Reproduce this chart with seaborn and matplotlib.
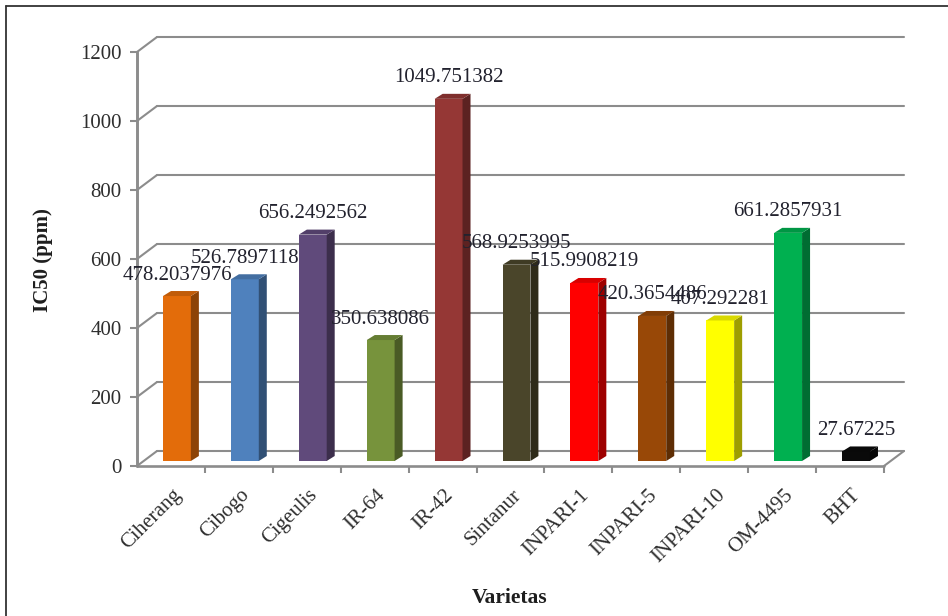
import numpy as np
import pandas as pd
import matplotlib
matplotlib.use("Agg")
import matplotlib.pyplot as plt
import seaborn as sns
from matplotlib.patches import Polygon
from matplotlib.lines import Line2D
from matplotlib.transforms import offset_copy, ScaledTranslation, IdentityTransform
from matplotlib.colors import to_rgb

# ---- data -------------------------------------------------------------
varieties = ["Ciherang", "Cibogo", "Cigeulis", "IR-64", "IR-42", "Sintanur",
             "INPARI-1", "INPARI-5", "INPARI-10", "OM-4495", "BHT"]
ic50 = [478.2037976, 526.7897118, 656.2492562, 350.638086, 1049.751382,
        568.9253995, 515.9908219, 420.3654486, 407.292281, 661.2857931, 27.67225]
bar_colors = ["#E36C0A", "#4F81BD", "#604A7B", "#77933C", "#953735", "#4A452A",
              "#FF0000", "#984807", "#FFFF00", "#00B050", "#0A0A0A"]
y_ticks = [0, 200, 400, 600, 800, 1000, 1200]

# ---- style ------------------------------------------------------------
sns.set_style("white")
plt.rcParams["font.family"] = ["Liberation Serif", "DejaVu Serif"]

W, H, DPI = 948, 616, 100
GRID = "#8c8c8c"
TEXT = "#22222e"

# pseudo-3D geometry, in pixels
WALL_DX, WALL_DY = 20, 15      # front plane -> back wall
BAR_SHIFT = (6, 5)             # bars stand a little behind the front plane
BAR_DX, BAR_DY = 8, 5          # bar depth

fig = plt.figure(figsize=(W / DPI, H / DPI), dpi=DPI)
ax = fig.add_axes([137 / W, 1 - 466 / H, (884 - 137) / W, (466 - 52) / H])

df = pd.DataFrame({"Varietas": varieties, "IC50": ic50})
sns.barplot(data=df, x="Varietas", y="IC50", hue="Varietas",
            palette=dict(zip(varieties, bar_colors)), saturation=1,
            width=0.41, linewidth=0, legend=False, ax=ax, zorder=3)

ax.set_xlim(-0.5, len(varieties) - 0.5)
ax.set_ylim(0, 1200)
for s in ax.spines.values():
    s.set_visible(False)

x_lo, x_hi = ax.get_xlim()
to_px = ax.transData.transform
back = offset_copy(ax.transData, fig=fig, x=WALL_DX, y=WALL_DY, units="dots")

# back wall gridlines and the slanted connectors to the front axis
for v in y_ticks:
    ax.add_line(Line2D([x_lo, x_hi], [v, v], transform=back, color=GRID,
                       lw=1.5, clip_on=False, zorder=1))
    px, py = to_px((x_lo, v))
    ax.add_line(Line2D([px, px + WALL_DX], [py, py + WALL_DY],
                       transform=IdentityTransform(), color=GRID, lw=1.5,
                       clip_on=False, zorder=1))
# floor: front edge and right-hand connector
ax.add_line(Line2D([x_lo, x_hi], [0, 0], color=GRID, lw=1.9,
                   clip_on=False, zorder=2))
px, py = to_px((x_hi, 0))
ax.add_line(Line2D([px, px + WALL_DX], [py, py + WALL_DY],
                   transform=IdentityTransform(), color=GRID, lw=1.5,
                   clip_on=False, zorder=1))
# front vertical axis
ax.add_line(Line2D([x_lo, x_lo], [0, 1200], color=GRID, lw=2.1,
                   clip_on=False, zorder=4))

# bars: push the front faces back, add side and top faces
bar_off = offset_copy(ax.transData, fig=fig, x=BAR_SHIFT[0], y=BAR_SHIFT[1], units="dots")
for patch, col, v in zip(ax.patches, bar_colors, ic50):
    patch.set_transform(bar_off)
    patch.set_clip_on(False)
    x0, x1 = patch.get_x(), patch.get_x() + patch.get_width()
    h = patch.get_height()
    fx0, fb = to_px((x0, 0))
    fx1, ft = to_px((x1, h))
    fx0 += BAR_SHIFT[0]; fx1 += BAR_SHIFT[0]
    fb += BAR_SHIFT[1]; ft += BAR_SHIFT[1]
    rgb = np.array(to_rgb(col))
    side = Polygon([(fx1, fb), (fx1 + BAR_DX, fb + BAR_DY),
                    (fx1 + BAR_DX, ft + BAR_DY), (fx1, ft)],
                   closed=True, facecolor=rgb * 0.62, edgecolor="none",
                   transform=IdentityTransform(), clip_on=False, zorder=3)
    top = Polygon([(fx0, ft), (fx1, ft), (fx1 + BAR_DX, ft + BAR_DY),
                   (fx0 + BAR_DX, ft + BAR_DY)],
                  closed=True, facecolor=rgb * 0.85, edgecolor="none",
                  transform=IdentityTransform(), clip_on=False, zorder=3)
    ax.add_patch(side)
    ax.add_patch(top)
    ax.annotate(f"{v}", xy=((x0 + x1) / 2, h),
                xytext=(BAR_SHIFT[0], BAR_SHIFT[1] + 21),
                textcoords="offset pixels", ha="center", va="center",
                fontsize=15, color=TEXT, zorder=6, annotation_clip=False)

# ticks
ax.set_yticks(y_ticks)
ax.tick_params(axis="y", length=5, width=1.5, color=GRID, pad=6,
               labelsize=15, labelcolor="#2e2e2e", left=True)
ax.set_xticks(range(len(varieties)))
ax.set_xticks(np.arange(0.5, len(varieties), 1.0), minor=True)
ax.tick_params(axis="x", which="major", length=0, pad=19,
               labelsize=15, labelcolor="#2e2e2e")
ax.tick_params(axis="x", which="minor", length=5, width=1.5, color=GRID,
               bottom=True)
ax.set_xticklabels(varieties, rotation=45, ha="right", va="center",
                   rotation_mode="anchor")
shift = ScaledTranslation(8 / DPI, 0, fig.dpi_scale_trans)
for lab in ax.get_xticklabels():
    lab.set_transform(lab.get_transform() + shift)

ax.set_xlabel("Varietas", fontsize=15.5, fontweight="bold", color="#1e1e1e", va="center")
ax.xaxis.set_label_coords((510 - 137) / 747, (466 - 598) / 414)
ax.set_ylabel("IC50 (ppm)", fontsize=15, fontweight="bold", color="#1e1e1e", va="center")
ax.yaxis.set_label_coords((43 - 137) / 747, (466 - 260) / 414)

# outer frame (left and top edges)
fig.add_artist(Line2D([6 / W, 6 / W], [0, 1 - 6 / H], transform=fig.transFigure,
                      color="#333333", lw=1.3))
fig.add_artist(Line2D([6 / W, 1], [1 - 6 / H, 1 - 6 / H], transform=fig.transFigure,
                      color="#333333", lw=1.3))

fig.savefig("out.png", dpi=DPI)
